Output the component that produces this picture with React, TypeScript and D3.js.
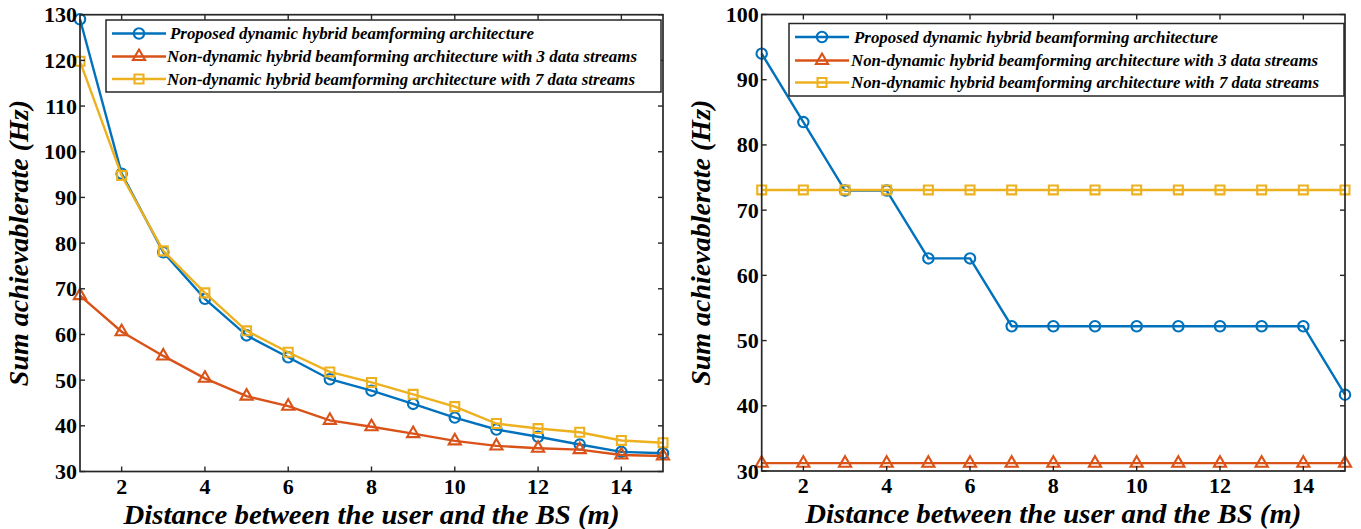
import React from "react";
import * as d3 from "d3";

// ---------- data ----------
const distances = [1, 2, 3, 4, 5, 6, 7, 8, 9, 10, 11, 12, 13, 14, 15];

// Left panel
const leftProposed = [129, 95.2, 78.0, 67.8, 59.8, 55.0, 50.2, 47.7, 44.8, 41.8, 39.2, 37.6, 35.9, 34.3, 34.0];
const leftStreams3 = [68.5, 60.6, 55.3, 50.4, 46.5, 44.3, 41.2, 39.8, 38.3, 36.7, 35.6, 35.1, 34.8, 33.6, 33.4];
const leftStreams7 = [119.8, 94.8, 78.3, 69.1, 60.8, 56.1, 51.8, 49.5, 46.9, 44.2, 40.5, 39.4, 38.6, 36.8, 36.3];

// Right panel
const rightProposed = [94.0, 83.5, 73.0, 73.0, 62.6, 62.6, 52.2, 52.2, 52.2, 52.2, 52.2, 52.2, 52.2, 52.2, 41.7];
const rightStreams3 = [31.2, 31.2, 31.2, 31.2, 31.2, 31.2, 31.2, 31.2, 31.2, 31.2, 31.2, 31.2, 31.2, 31.2, 31.2];
const rightStreams7 = [73.1, 73.1, 73.1, 73.1, 73.1, 73.1, 73.1, 73.1, 73.1, 73.1, 73.1, 73.1, 73.1, 73.1, 73.1];

const xTicks = [2, 4, 6, 8, 10, 12, 14];
const leftYTicks = [30, 40, 50, 60, 70, 80, 90, 100, 110, 120, 130];
const rightYTicks = [30, 40, 50, 60, 70, 80, 90, 100];

const seriesNames = [
  "Proposed dynamic hybrid beamforming architecture",
  "Non-dynamic hybrid beamforming architecture with 3 data streams",
  "Non-dynamic hybrid beamforming architecture with 7 data streams",
];
const seriesColors = ["#0072BD", "#D95319", "#EDB120"];
const seriesMarkers = ["circle", "triangle", "square"];

const xLabel = "Distance between the user and the BS (m)";
const yLabel = "Sum achievablerate (Hz)";

const FONT = "Liberation Serif, Times New Roman, serif";
const AXIS_COLOR = "#262626";

function markerPath(kind: string) {
  const sym =
    kind === "circle" ? d3.symbolCircle : kind === "triangle" ? d3.symbolTriangle : d3.symbolSquare;
  const size = kind === "circle" ? 85 : kind === "triangle" ? 64 : 80;
  return d3.symbol(sym, size)() as string;
}

type PanelProps = {
  left: number;
  right: number;
  top: number;
  bottom: number;
  yDomain: [number, number];
  yTicks: number[];
  series: number[][];
  legend: { x0: number; x1: number; y0: number; y1: number; rows: number[]; lineX0: number; lineX1: number; textX: number; widths: number[] };
};

const tickFont: React.CSSProperties = { fontFamily: FONT, fontWeight: 700, fontSize: 22 };
const labelFont: React.CSSProperties = { fontFamily: FONT, fontWeight: 700, fontStyle: "italic", fontSize: 28 };
const legendFont: React.CSSProperties = { fontFamily: FONT, fontWeight: 700, fontStyle: "italic", fontSize: 17 };

function Panel({ left, right, top, bottom, yDomain, yTicks, series, legend }: PanelProps) {
  const x = d3.scaleLinear().domain([1, 15]).range([left, right]);
  const y = d3.scaleLinear().domain(yDomain).range([bottom, top]);
  const line = d3
    .line<number>()
    .x((_, i) => x(distances[i]))
    .y((d) => y(d));
  const tickLen = 5;
  const cx = (left + right) / 2;
  const cy = (top + bottom) / 2;
  return (
    <g>
      {/* data */}
      {series.map((vals, si) => (
        <g key={si}>
          <path d={line(vals) as string} fill="none" stroke={seriesColors[si]} strokeWidth={2.4} />
          {vals.map((v, i) => (
            <path
              key={i}
              d={markerPath(seriesMarkers[si])}
              transform={`translate(${x(distances[i])},${y(v)})`}
              fill="none"
              stroke={seriesColors[si]}
              strokeWidth={2.1}
            />
          ))}
        </g>
      ))}
      {/* frame */}
      <rect x={left} y={top} width={right - left} height={bottom - top} fill="none" stroke={AXIS_COLOR} strokeWidth={1.7} />
      {xTicks.map((t) => (
        <g key={"xt" + t}>
          <line x1={x(t)} x2={x(t)} y1={bottom} y2={bottom - tickLen} stroke={AXIS_COLOR} strokeWidth={1.4} />
          <line x1={x(t)} x2={x(t)} y1={top} y2={top + tickLen} stroke={AXIS_COLOR} strokeWidth={1.4} />
          <text x={x(t)} y={bottom + 22} textAnchor="middle" style={tickFont} fill="#000">
            {t}
          </text>
        </g>
      ))}
      {yTicks.map((t) => (
        <g key={"yt" + t}>
          <line x1={left} x2={left + tickLen} y1={y(t)} y2={y(t)} stroke={AXIS_COLOR} strokeWidth={1.4} />
          <line x1={right} x2={right - tickLen} y1={y(t)} y2={y(t)} stroke={AXIS_COLOR} strokeWidth={1.4} />
          <text x={left - 3} y={y(t) + 7.5} textAnchor="end" style={tickFont} fill="#000">
            {t}
          </text>
        </g>
      ))}
      {/* axis labels */}
      <text
        x={cx}
        y={bottom + 52}
        textAnchor="middle"
        style={labelFont}
        fill="#000"
        textLength={496}
        lengthAdjust="spacingAndGlyphs"
      >
        {xLabel}
      </text>
      <text transform={`translate(${left - 52},${cy}) rotate(-90)`} textAnchor="middle" style={labelFont} fill="#000">
        {yLabel}
      </text>
      {/* legend */}
      <rect x={legend.x0} y={legend.y0} width={legend.x1 - legend.x0} height={legend.y1 - legend.y0} fill="#fff" stroke={AXIS_COLOR} strokeWidth={1.5} />
      {seriesNames.map((name, si) => {
        const ry = legend.rows[si];
        const mx = (legend.lineX0 + legend.lineX1) / 2;
        return (
          <g key={"lg" + si}>
            <line x1={legend.lineX0} x2={legend.lineX1} y1={ry} y2={ry} stroke={seriesColors[si]} strokeWidth={2.4} />
            <path d={markerPath(seriesMarkers[si])} transform={`translate(${mx},${ry})`} fill="none" stroke={seriesColors[si]} strokeWidth={2.1} />
            <text
              x={legend.textX + (si === 0 ? 3 : 0)}
              y={ry + 5.5}
              style={legendFont}
              fill="#000"
              textLength={legend.widths[si]}
              lengthAdjust="spacingAndGlyphs"
            >
              {name}
            </text>
          </g>
        );
      })}
    </g>
  );
}

export default function App() {
  return (
    <svg width={1361} height={529} style={{ position: "absolute", left: 0, top: 0, background: "#fff" }}>
      <rect x={0} y={0} width={1361} height={529} fill="#fff" />
      <Panel
        left={80}
        right={663}
        top={14.7}
        bottom={471.5}
        yDomain={[30, 130]}
        yTicks={leftYTicks}
        series={[leftProposed, leftStreams3, leftStreams7]}
        legend={{ x0: 106, x1: 661, y0: 20, y1: 92, rows: [33.5, 56.5, 79], lineX0: 112, lineX1: 166, textX: 167, widths: [364, 470, 468] }}
      />
      <Panel
        left={761.7}
        right={1345}
        top={14.5}
        bottom={471}
        yDomain={[30, 100]}
        yTicks={rightYTicks}
        series={[rightProposed, rightStreams3, rightStreams7]}
        legend={{ x0: 789, x1: 1344, y0: 23.5, y1: 96, rows: [37, 60.5, 82.5], lineX0: 795, lineX1: 849, textX: 851, widths: [364, 467, 468] }}
      />
    </svg>
  );
}
